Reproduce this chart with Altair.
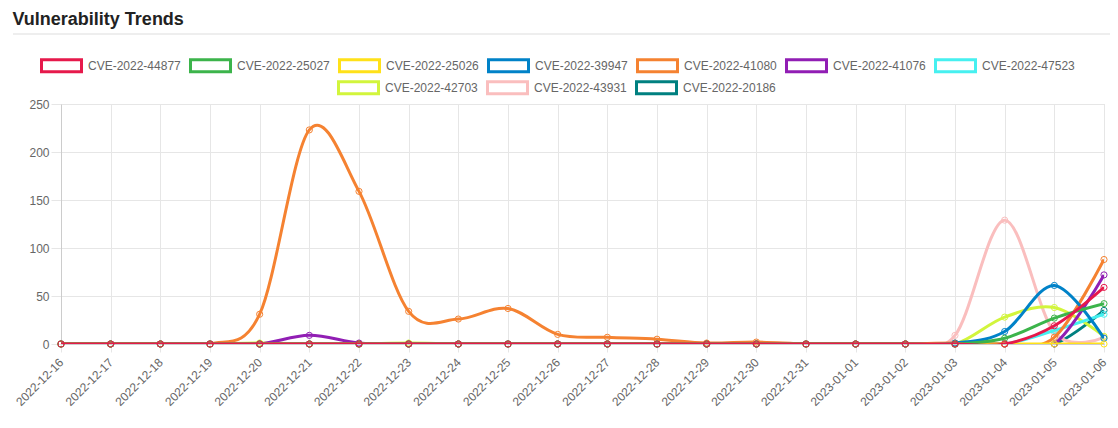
import altair as alt
import pandas as pd

dates = [
    "2022-12-16", "2022-12-17", "2022-12-18", "2022-12-19", "2022-12-20",
    "2022-12-21", "2022-12-22", "2022-12-23", "2022-12-24", "2022-12-25",
    "2022-12-26", "2022-12-27", "2022-12-28", "2022-12-29", "2022-12-30",
    "2022-12-31", "2023-01-01", "2023-01-02", "2023-01-03", "2023-01-04",
    "2023-01-05", "2023-01-06",
]

series_names = [
    "CVE-2022-44877", "CVE-2022-25027", "CVE-2022-25026", "CVE-2022-39947",
    "CVE-2022-41080", "CVE-2022-41076", "CVE-2022-47523", "CVE-2022-42703",
    "CVE-2022-43931", "CVE-2022-20186",
]
series_colors = [
    "#e6194b", "#3cb44b", "#ffe119", "#0082c8", "#f58231",
    "#911eb4", "#46f0f0", "#d2f53c", "#fabebe", "#008080",
]

cve_2022_44877 = [0, 0, 0, 0, 0, 0, 0, 0, 0, 0, 0, 0, 0, 0, 0, 0, 0, 0, 0, 0, 19, 59]
cve_2022_25027 = [0, 0, 0, 0, 0, 0, 0, 0, 0, 0, 0, 0, 0, 0, 0, 0, 0, 0, 0, 6, 27, 42]
cve_2022_25026 = [0, 0, 0, 0, 0, 0, 0, 0, 0, 0, 0, 0, 0, 0, 0, 0, 0, 0, 0, 0, 0, 0]
cve_2022_39947 = [0, 0, 0, 0, 0, 0, 0, 0, 0, 0, 0, 0, 0, 0, 0, 0, 0, 0, 1, 13, 61, 6]
cve_2022_41080 = [0, 0, 0, 0, 31, 223, 159, 34, 26, 37, 10, 7, 5, 1, 2, 0, 0, 0, 1, 0, 7, 88]
cve_2022_41076 = [0, 0, 0, 0, 0, 9, 1, 0, 0, 0, 0, 0, 0, 0, 0, 0, 0, 0, 0, 0, 0, 72]
cve_2022_47523 = [0, 0, 0, 0, 0, 0, 0, 0, 0, 0, 0, 0, 0, 0, 0, 0, 0, 0, 0, 0, 14, 31]
cve_2022_42703 = [0, 0, 0, 0, 1, 0, 0, 1, 0, 0, 0, 0, 0, 0, 0, 0, 0, 0, 0, 28, 38, 8]
cve_2022_43931 = [0, 0, 0, 0, 0, 0, 0, 0, 0, 0, 0, 0, 0, 0, 0, 0, 0, 0, 9, 129, 12, 7]
cve_2022_20186 = [0, 0, 0, 0, 0, 0, 0, 0, 0, 0, 0, 0, 0, 0, 0, 0, 0, 0, 0, 0, 0, 35]

series_values = [
    cve_2022_44877, cve_2022_25027, cve_2022_25026, cve_2022_39947,
    cve_2022_41080, cve_2022_41076, cve_2022_47523, cve_2022_42703,
    cve_2022_43931, cve_2022_20186,
]

y_ticks = [0, 50, 100, 150, 200, 250]

rows = []
for name, vals in zip(series_names, series_values):
    for d, v in zip(dates, vals):
        rows.append({"date": d, "series": name, "count": v})
df = pd.DataFrame(rows)

group1 = series_names[:7]
group2 = series_names[7:]
colors1 = series_colors[:7]
colors2 = series_colors[7:]

FONT = "Liberation Sans"
GRID = "#e6e6e6"

box_path = "M-1,-0.3H1V0.3H-1Z"

legend_style = dict(
    title=None, orient="none", direction="horizontal",
    symbolType=box_path, symbolSize=1600, symbolStrokeWidth=3,
    symbolFillColor="white", symbolOpacity=1,
    labelFont=FONT, labelFontSize=12, labelColor="#666666",
    labelOffset=5, columnPadding=3, rowPadding=0,
)
legend1 = alt.Legend(columns=7, legendX=-21, legendY=-60, **legend_style)
legend2 = alt.Legend(columns=3, legendX=276, legendY=-38, **legend_style)

x_enc = alt.X(
    "date:O", sort=dates,
    scale=alt.Scale(type="point", padding=0, domain=dates),
    axis=alt.Axis(
        title=None, labelAngle=-45, labelAlign="right", labelBaseline="middle",
        labelFont=FONT, labelFontSize=12, labelColor="#666666",
        grid=True, gridColor=GRID, tickColor=GRID, tickSize=8,
        domainColor="#cccccc", labelPadding=8,
    ),
)
y_enc = alt.Y(
    "count:Q",
    scale=alt.Scale(domain=[0, 250], nice=False),
    axis=alt.Axis(
        title=None, values=y_ticks,
        labelFont=FONT, labelFontSize=12, labelColor="#666666",
        grid=True, gridColor=GRID, tickColor=GRID, tickSize=10,
        domainColor="#cccccc", labelPadding=2,
    ),
)

base = alt.Chart(df)
layers = []

# Title underline (decoration)
layers.append(
    alt.Chart(df).mark_rule(color="#dddddd", strokeWidth=1).encode(
        x=alt.value(-48), x2=alt.value(1049), y=alt.value(-70)
    ).transform_filter(alt.datum.date == dates[0]).transform_filter(
        alt.datum.series == series_names[0]
    )
)

# draw last series first so that the first series is on top
for name in reversed(series_names):
    sub = base.transform_filter(alt.datum.series == name)
    if name in group1:
        ch = alt.Color("series:N", scale=alt.Scale(domain=group1, range=colors1), legend=legend1)
        line = sub.mark_line(interpolate="cardinal", strokeWidth=3, clip=True).encode(
            x=x_enc, y=y_enc, color=ch
        )
        pts = sub.mark_point(filled=False, size=38, strokeWidth=1, opacity=1).encode(
            x=x_enc, y=y_enc, color=ch
        )
    else:
        ch = alt.Stroke("series:N", scale=alt.Scale(domain=group2, range=colors2), legend=legend2)
        line = sub.mark_line(interpolate="cardinal", strokeWidth=3, clip=True).encode(
            x=x_enc, y=y_enc, stroke=ch
        )
        pts = sub.mark_point(filled=False, size=38, strokeWidth=1, opacity=1).encode(
            x=x_enc, y=y_enc, stroke=ch
        )
    layers.append(line)
    layers.append(pts)

chart = alt.layer(*layers).properties(
    width=1043,
    height=240,
    autosize=alt.AutoSizeParams(type="none"),
    padding={"left": 61, "top": 104, "right": 14, "bottom": 84},
    title=alt.TitleParams(
        "Vulnerability Trends", anchor="start", fontSize=18, font=FONT,
        fontWeight="bold", color="#222222", dx=0, offset=5,
    ),
).configure_view(stroke=None).configure(background="white")

chart.save("out.html", embed_options={"renderer": "svg", "actions": False})
